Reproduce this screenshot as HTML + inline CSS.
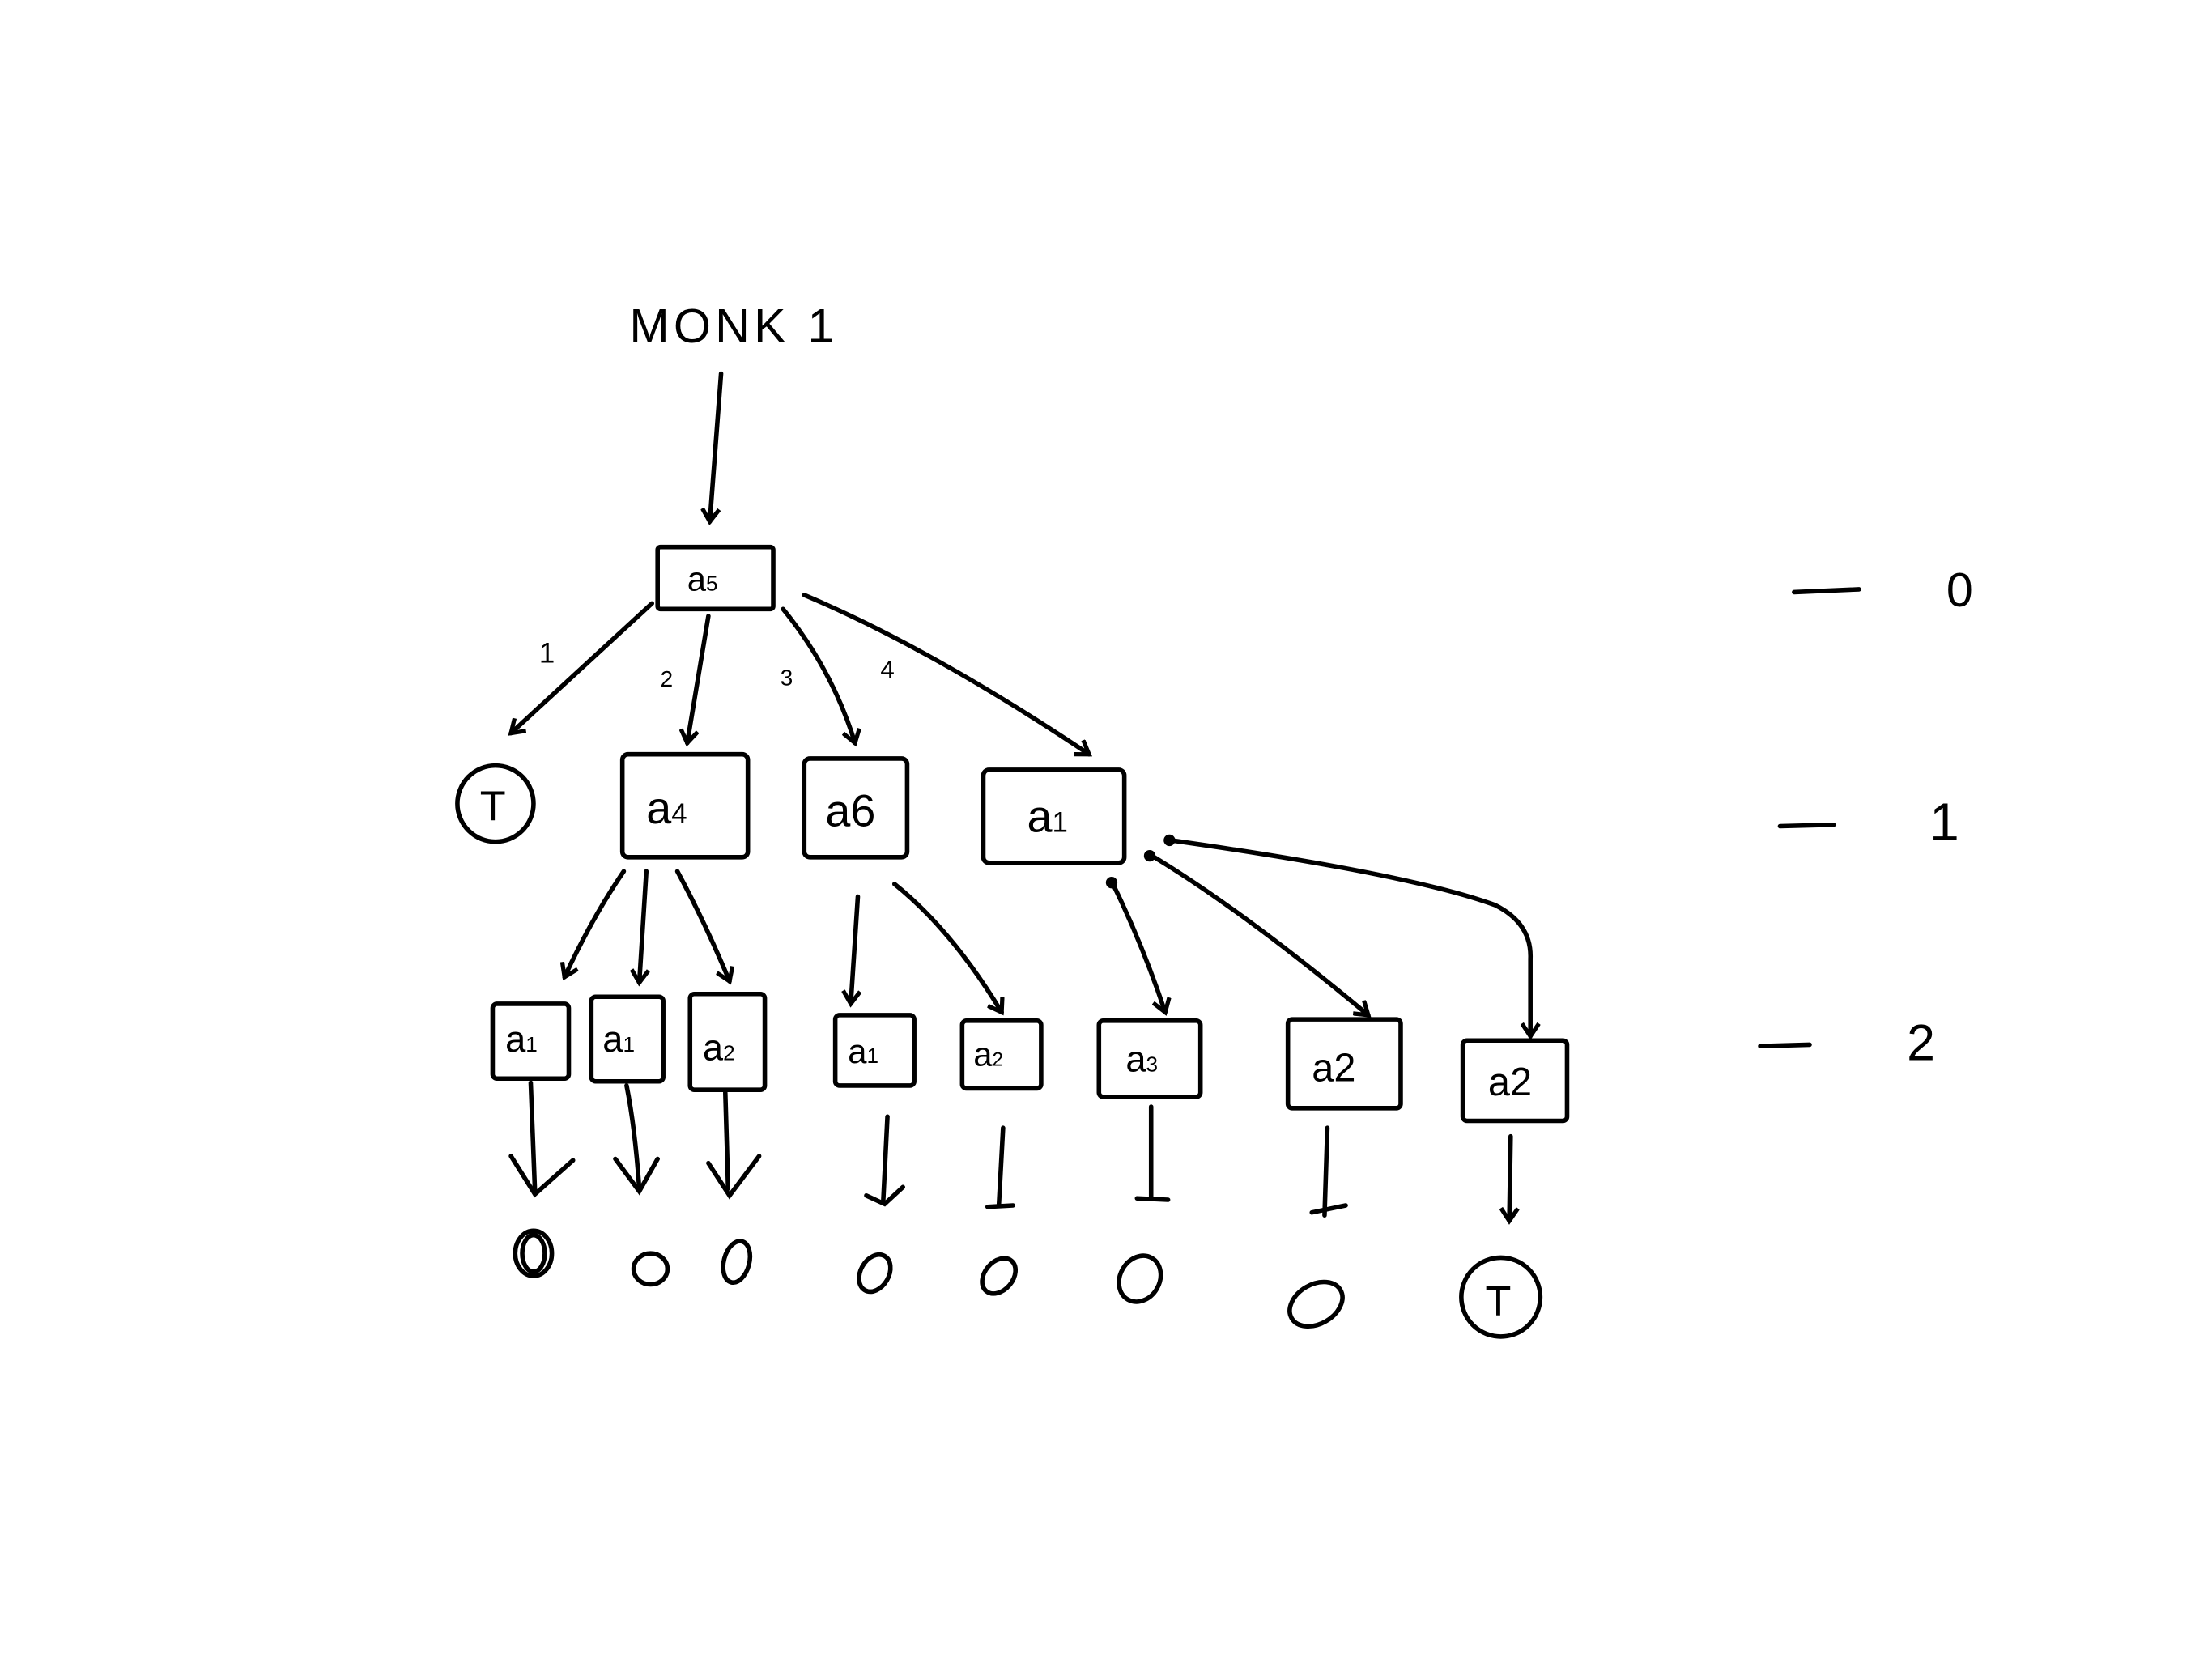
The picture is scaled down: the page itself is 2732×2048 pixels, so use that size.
<!DOCTYPE html>
<html><head><meta charset="utf-8"><style>
html,body{margin:0;padding:0;background:#fff;}
svg{display:block;}
text{font-family:"Liberation Sans",sans-serif;fill:#000;}
</style></head><body>
<svg width="2732" height="2048" viewBox="0 0 1568 1176" xmlns="http://www.w3.org/2000/svg">
<defs>
<marker id="ar" markerWidth="14" markerHeight="14" refX="10" refY="7" orient="auto" markerUnits="userSpaceOnUse">
<path d="M1,1 L10,7 L1,13" fill="none" stroke="#000" stroke-width="3"/>
</marker>
</defs>
<g stroke="#000" stroke-width="3.2" fill="none" stroke-linecap="round">
<!-- top -->
<path d="M511,265 L503,370" marker-end="url(#ar)"/>
<rect x="466" y="388" width="82" height="44" rx="2"/>
<path d="M462,428 L362,520" marker-end="url(#ar)"/>
<path d="M502,437 L487,527" marker-end="url(#ar)"/>
<path d="M555,432 Q590,475 606,527" marker-end="url(#ar)"/>
<path d="M570,422 Q660,460 772,535" marker-end="url(#ar)"/>
<!-- level1 -->
<circle cx="351" cy="570" r="27"/>
<rect x="441" y="535" width="89" height="73" rx="4"/>
<rect x="570" y="538" width="73" height="70" rx="4"/>
<rect x="697" y="546" width="100" height="66" rx="4"/>
<!-- edges to level2 -->
<path d="M442,618 Q420,650 400,693" marker-end="url(#ar)"/>
<path d="M458,618 L453,697" marker-end="url(#ar)"/>
<path d="M480,618 Q500,655 517,696" marker-end="url(#ar)"/>
<path d="M608,636 L603,712" marker-end="url(#ar)"/>
<path d="M634,627 Q675,660 710,718" marker-end="url(#ar)"/>
<path d="M788,625 Q810,670 826,718" marker-end="url(#ar)"/>
<path d="M815,606 Q880,645 970,720" marker-end="url(#ar)"/>
<path d="M830,596 Q1000,620 1060,642 Q1086,655 1085,680 L1085,735" marker-end="url(#ar)"/>
<circle cx="788" cy="626" r="2.5" fill="#000"/>
<circle cx="815" cy="607" r="2.5" fill="#000"/>
<circle cx="829" cy="596" r="2.5" fill="#000"/>
<!-- level2 boxes -->
<rect x="349" y="712" width="54" height="53" rx="3"/>
<rect x="419" y="707" width="51" height="60" rx="3"/>
<rect x="489" y="705" width="53" height="68" rx="3"/>
<rect x="592" y="720" width="56" height="50" rx="3"/>
<rect x="682" y="724" width="56" height="48" rx="3"/>
<rect x="779" y="724" width="72" height="54" rx="3"/>
<rect x="913" y="723" width="80" height="63" rx="3"/>
<rect x="1037" y="738" width="74" height="57" rx="3"/>
<!-- bottom arrows -->
<path d="M376,768 L379,845"/><path d="M362,820 L379,847 L406,823"/>
<path d="M444,770 Q450,800 453,843"/><path d="M436,822 L453,845 L466,822"/>
<path d="M514,775 L516,843"/><path d="M502,825 L517,848 L538,820"/>
<path d="M629,792 L626,852"/><path d="M614,848 L627,854 L640,842"/>
<path d="M711,800 L708,855"/><path d="M700,856 L718,855"/>
<path d="M816,785 L816,850"/><path d="M806,850 L828,851"/>
<path d="M941,800 L939,862"/><path d="M930,860 L954,855"/>
<path d="M1071,806 L1070,866" marker-end="url(#ar)"/>
<!-- leaf circles -->
<ellipse cx="378" cy="889" rx="13" ry="16"/><ellipse cx="378" cy="889" rx="8" ry="13"/>
<ellipse cx="461" cy="900" rx="12" ry="11"/>
<ellipse cx="522" cy="895" rx="9" ry="15" transform="rotate(15 522 895)"/>
<ellipse cx="620" cy="903" rx="10" ry="14" transform="rotate(30 620 903)"/>
<ellipse cx="708" cy="905" rx="10" ry="14" transform="rotate(40 708 905)"/>
<ellipse cx="808" cy="907" rx="14" ry="17" transform="rotate(30 808 907)"/>
<ellipse cx="933" cy="925" rx="20" ry="14" transform="rotate(-30 933 925)"/>
<circle cx="1064" cy="920" r="28"/>
<!-- right scale -->
<path d="M1272,420 L1318,418"/>
<path d="M1262,586 L1300,585"/>
<path d="M1248,742 L1283,741"/>
</g>
<text x="446" y="243" font-size="34" letter-spacing="3">MONK 1</text>
<text x="382" y="470" font-size="20">1</text>
<text x="468" y="487" font-size="16">2</text>
<text x="553" y="486" font-size="16">3</text>
<text x="624" y="481" font-size="18">4</text>
<text x="487" y="419" font-size="24">a<tspan font-size="15">5</tspan></text>
<text x="340" y="582" font-size="30">T</text>
<text x="458" y="584" font-size="32">a<tspan font-size="20">4</tspan></text>
<text x="585" y="586" font-size="32">a6</text>
<text x="728" y="590" font-size="32">a<tspan font-size="20">1</tspan></text>
<text x="358" y="746" font-size="26">a<tspan font-size="15">1</tspan></text>
<text x="427" y="746" font-size="26">a<tspan font-size="15">1</tspan></text>
<text x="498" y="752" font-size="26">a<tspan font-size="15">2</tspan></text>
<text x="601" y="754" font-size="24">a<tspan font-size="15">1</tspan></text>
<text x="690" y="756" font-size="24">a<tspan font-size="14">2</tspan></text>
<text x="798" y="760" font-size="26">a<tspan font-size="15">3</tspan></text>
<text x="930" y="767" font-size="28">a2</text>
<text x="1055" y="777" font-size="28">a2</text>
<text x="1053" y="933" font-size="30">T</text>
<text x="1380" y="430" font-size="34">0</text>
<text x="1368" y="596" font-size="38">1</text>
<text x="1352" y="752" font-size="36">2</text>
</svg>
</body></html>
